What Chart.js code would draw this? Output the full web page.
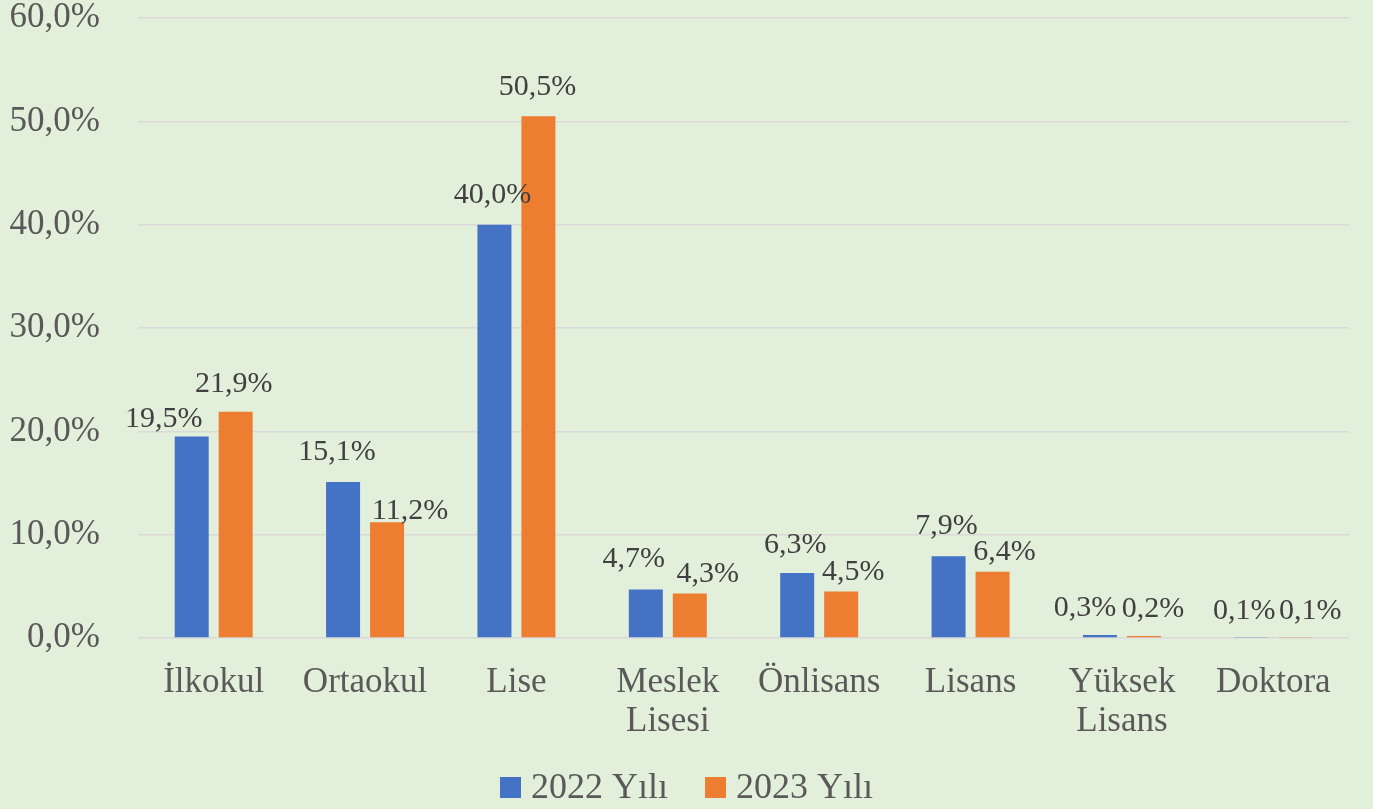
<!DOCTYPE html>
<html>
<head>
<meta charset="utf-8">
<script src="https://cdn.jsdelivr.net/npm/chart.js@4/dist/chart.umd.min.js"></script>
<style>
  html, body { margin: 0; padding: 0; background: #E2EFDA; }
  #wrap { width: 1373px; height: 809px; }
</style>
</head>
<body>
<div id="wrap"><canvas id="c" width="1373" height="809"></canvas></div>
<script>
const categories = ["İlkokul", "Ortaokul", "Lise", ["Meslek", "Lisesi"], "Önlisans", "Lisans", ["Yüksek", "Lisans"], "Doktora"];
const seriesNames = ["2022 Yılı", "2023 Yılı"];
const values2022 = [19.5, 15.1, 40.0, 4.7, 6.3, 7.9, 0.3, 0.1];
const values2023 = [21.9, 11.2, 50.5, 4.3, 4.5, 6.4, 0.2, 0.1];
const yTicks = [0, 10, 20, 30, 40, 50, 60];

// label placement tweaks (pixels), separate from data
const labelDx = [[-28, -6, -2, -12, -2, -2, -15, -7], [-2, 23, -1, 18, 12, 12, 9, 15]];
const labelGap = [[10, 22, 22, 22, 20, 22, 19, 18], [20, 3, 21, 12, 12, 12, 19, 18]];

const FONT = "'Liberation Serif', 'Times New Roman', serif";
const fmt = v => v.toFixed(1).replace('.', ',') + '%';

const bgPlugin = {
  id: 'bg',
  beforeDraw(chart) {
    const ctx = chart.ctx;
    ctx.save();
    ctx.fillStyle = '#E2EFDA';
    ctx.fillRect(0, 0, chart.width, chart.height);
    ctx.restore();
  }
};

const labelPlugin = {
  id: 'valueLabels',
  afterDatasetsDraw(chart) {
    const ctx = chart.ctx;
    ctx.save();
    ctx.font = "30px " + FONT;
    ctx.fillStyle = '#404040';
    ctx.textAlign = 'center';
    ctx.textBaseline = 'alphabetic';
    chart.data.datasets.forEach((ds, di) => {
      const meta = chart.getDatasetMeta(di);
      meta.data.forEach((bar, i) => {
        ctx.fillText(fmt(ds.data[i]), bar.x + labelDx[di][i], bar.y - labelGap[di][i]);
      });
    });
    ctx.restore();
  }
};

const legendPlugin = {
  id: 'bottomLegend',
  afterDraw(chart) {
    const ctx = chart.ctx;
    ctx.save();
    ctx.font = "36px " + FONT;
    const box = 21, gapText = 10, gapItem = 37;
    const items = chart.data.datasets.map(ds => ({ text: ds.label, color: ds.backgroundColor, w: ctx.measureText(ds.label).width }));
    let total = items.reduce((s, it) => s + box + gapText + it.w, 0) + gapItem * (items.length - 1);
    let x = chart.width / 2 - total / 2;
    const baseline = 798;
    ctx.textBaseline = 'alphabetic';
    ctx.textAlign = 'left';
    items.forEach(it => {
      ctx.fillStyle = it.color;
      ctx.fillRect(x, baseline - box, box, box);
      ctx.fillStyle = '#595959';
      ctx.fillText(it.text, x + box + gapText, baseline);
      x += box + gapText + it.w + gapItem;
    });
    ctx.restore();
  }
};

new Chart(document.getElementById('c'), {
  type: 'bar',
  data: {
    labels: categories,
    datasets: [
      { label: seriesNames[0], data: values2022, backgroundColor: '#4472C4', categoryPercentage: 0.581, barPercentage: 0.773 },
      { label: seriesNames[1], data: values2023, backgroundColor: '#ED7D31', categoryPercentage: 0.581, barPercentage: 0.773 }
    ]
  },
  options: {
    responsive: false,
    animation: false,
    layout: { padding: { top: 18, right: 24, left: 0, bottom: 70 } },
    plugins: {
      tooltip: { enabled: false },
      legend: { display: false }
    },
    scales: {
      x: {
        grid: { display: false },
        border: { display: false },
        ticks: {
          font: { family: FONT, size: 35, lineHeight: 1.1 },
          color: '#595959',
          padding: 18,
          maxRotation: 0,
          autoSkip: false
        },
        afterFit(scale) { scale.height = 101; }
      },
      y: {
        min: 0,
        max: 60,
        afterBuildTicks(scale) { scale.ticks = yTicks.map(v => ({ value: v })); },
        grid: { color: '#D9D9D9', lineWidth: 1.5, drawTicks: false },
        border: { display: false },
        ticks: {
          font: { family: FONT, size: 35, lineHeight: 1 },
          color: '#595959',
          padding: 38,
          callback: v => fmt(v)
        },
        afterFit(scale) {
          scale.width = 138;
          scale.paddingTop = 0;
          scale.paddingBottom = 0;
        }
      }
    }
  },
  plugins: [bgPlugin, labelPlugin, legendPlugin]
});
</script>
</body>
</html>
